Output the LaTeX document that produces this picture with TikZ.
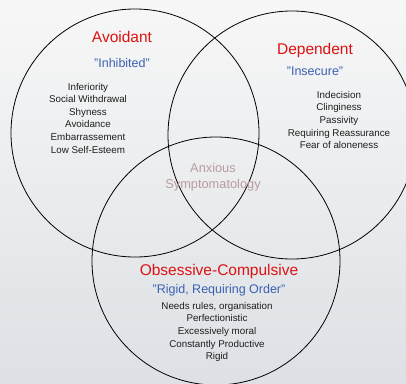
\documentclass[tikz,border=0pt]{standalone}
\usepackage{fontspec}
\setmainfont{Liberation Sans}
\usetikzlibrary{positioning}
\definecolor{titlered}{RGB}{222,18,18}
\definecolor{tagblue}{RGB}{58,96,176}
\definecolor{listgray}{RGB}{30,30,30}
\definecolor{anxrose}{RGB}{184,156,160}
\definecolor{bgtop}{RGB}{247,247,247}
\definecolor{bgbottom}{RGB}{221,225,229}
\tikzset{
    ring/.style={circle,draw,line width=0.8pt,minimum size=248pt,inner sep=0pt},
    title/.style={text=titlered,font=\fontsize{15.5}{18}\selectfont,inner sep=0pt},
    tag/.style={text=tagblue,font=\fontsize{12.5}{15}\selectfont,inner sep=0pt},
    traits/.style={text=listgray,align=center,font=\fontsize{9.8}{12.6}\selectfont,inner sep=0pt},
    overlap/.style={text=anxrose,align=center,font=\fontsize{12.8}{16}\selectfont,inner sep=0pt}
}

\begin{document}
\begin{tikzpicture}
    \useasboundingbox (0,0) rectangle (406pt,-383pt);
    \clip (0,0) rectangle (406pt,-383pt);
    \shade[top color=bgtop,bottom color=bgbottom] (0,0) rectangle (406pt,-383pt);

    % the three circles
    \node[ring] (avoid) at (135pt,-133pt) {};
    \node[ring] (depend) at (292pt,-135pt) {};
    \node[ring] (obsess) at (216pt,-261pt) {};

    % avoidant
    \node[title] (avoidname) at (122pt,-37pt) {Avoidant};
    \node[tag] (avoidtag) at (122pt,-63pt) {"Inhibited"};
    \node[traits] (avoidlist) at (88pt,-118pt) {Inferiority\\Social Withdrawal\\Shyness\\Avoidance\\Embarrassement\\Low Self-Esteem};

    % dependent
    \node[title] (dependname) at (315pt,-50pt) {Dependent};
    \node[tag] (dependtag) at (315pt,-71pt) {"Insecure"};
    \node[traits] (dependlist) at (339pt,-120pt) {Indecision\\Clinginess\\Passivity\\Requiring Reassurance\\Fear of aloneness};

    % middle
    \node[overlap] (anxious) at (213pt,-177pt) {Anxious\\Symptomatology};

    % obsessive-compulsive
    \node[title] (obsessname) at (219pt,-271pt) {Obsessive-Compulsive};
    \node[tag] (obsesstag) at (219pt,-290pt) {"Rigid, Requiring Order"};
    \node[traits] (obsesslist) at (217pt,-332pt) {Needs rules, organisation\\Perfectionistic\\Excessively moral\\Constantly Productive\\Rigid};
\end{tikzpicture}
\end{document}
